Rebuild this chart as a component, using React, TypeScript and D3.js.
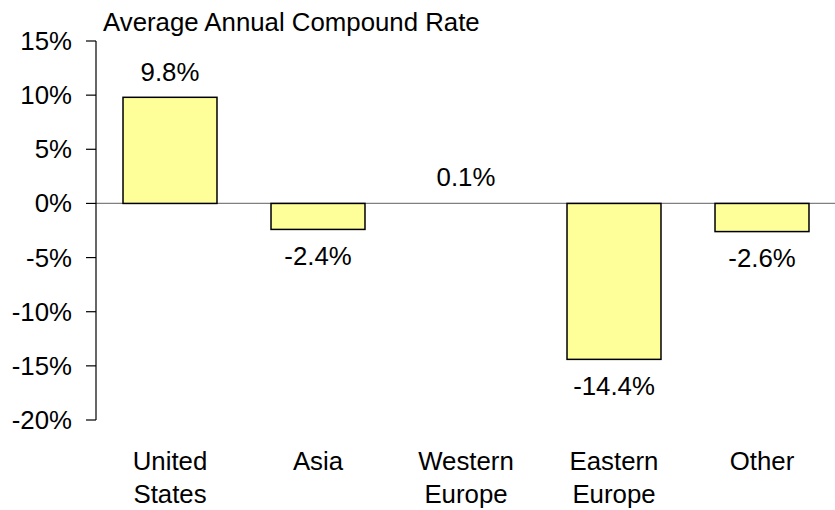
import React from "react";
import * as d3 from "d3";

const categories: string[][] = [["United", "States"], ["Asia"], ["Western", "Europe"], ["Eastern", "Europe"], ["Other"]];
const values: number[] = [9.8, -2.4, 0.1, -14.4, -2.6];
const valueLabels: string[] = ["9.8%", "-2.4%", "0.1%", "-14.4%", "-2.6%"];
const yTicks: number[] = [15, 10, 5, 0, -5, -10, -15, -20];
const title = "Average Annual Compound Rate";

const W = 835;
const H = 510;
const FONT = "'Liberation Sans', Arial, sans-serif";
const FS = 25.8;

export default function App() {
  const x = d3
    .scaleBand<number>()
    .domain(d3.range(values.length))
    .range([96, 836])
    .paddingInner(0.365)
    .paddingOuter(0.1825);
  const y = d3.scaleLinear().domain([-20, 15]).range([420, 41]);
  const y0 = y(0);

  return (
    <svg
      width={W}
      height={H}
      style={{ position: "fixed", left: 0, top: 0, background: "#fff" }}
      fontFamily={FONT}
    >
      <text x={103} y={31} fontSize={FS} fill="#000">
        {title}
      </text>
      {/* zero line */}
      <line x1={96} x2={835} y1={y0} y2={y0} stroke="#808080" strokeWidth={1.3} />
      {/* bars */}
      {values.map((v, i) => {
        const top = y(Math.max(0, v));
        const bot = y(Math.min(0, v));
        const h = bot - top;
        if (Math.abs(v) < 0.5) return null;
        return (
          <rect
            key={i}
            x={x(i)!}
            y={top}
            width={x.bandwidth()}
            height={h}
            fill="#FFFF99"
            stroke="#000"
            strokeWidth={1.5}
          />
        );
      })}
      {/* value labels */}
      {values.map((v, i) => {
        const cx = x(i)! + x.bandwidth() / 2;
        const yy = v >= 0 ? y(v) - 16 : y(v) + 35.5;
        return (
          <text key={i} x={cx} y={yy} fontSize={FS} textAnchor="middle" fill="#000">
            {valueLabels[i]}
          </text>
        );
      })}
      {/* y axis */}
      <line x1={96} x2={96} y1={y(15)} y2={y(-20)} stroke="#000" strokeWidth={1.2} />
      {yTicks.map((t) => (
        <g key={t}>
          <line x1={86} x2={96} y1={y(t)} y2={y(t)} stroke="#000" strokeWidth={1.2} />
          <text x={72} y={y(t)} dy="0.35em" fontSize={FS} textAnchor="end" fill="#000">
            {t + "%"}
          </text>
        </g>
      ))}
      {/* category labels */}
      {categories.map((lines, i) => {
        const cx = x(i)! + x.bandwidth() / 2;
        return (
          <text key={i} x={cx} y={470} fontSize={FS} textAnchor="middle" fill="#000">
            {lines.map((l, j) => (
              <tspan key={j} x={cx} dy={j === 0 ? 0 : 33}>
                {l}
              </tspan>
            ))}
          </text>
        );
      })}
    </svg>
  );
}
